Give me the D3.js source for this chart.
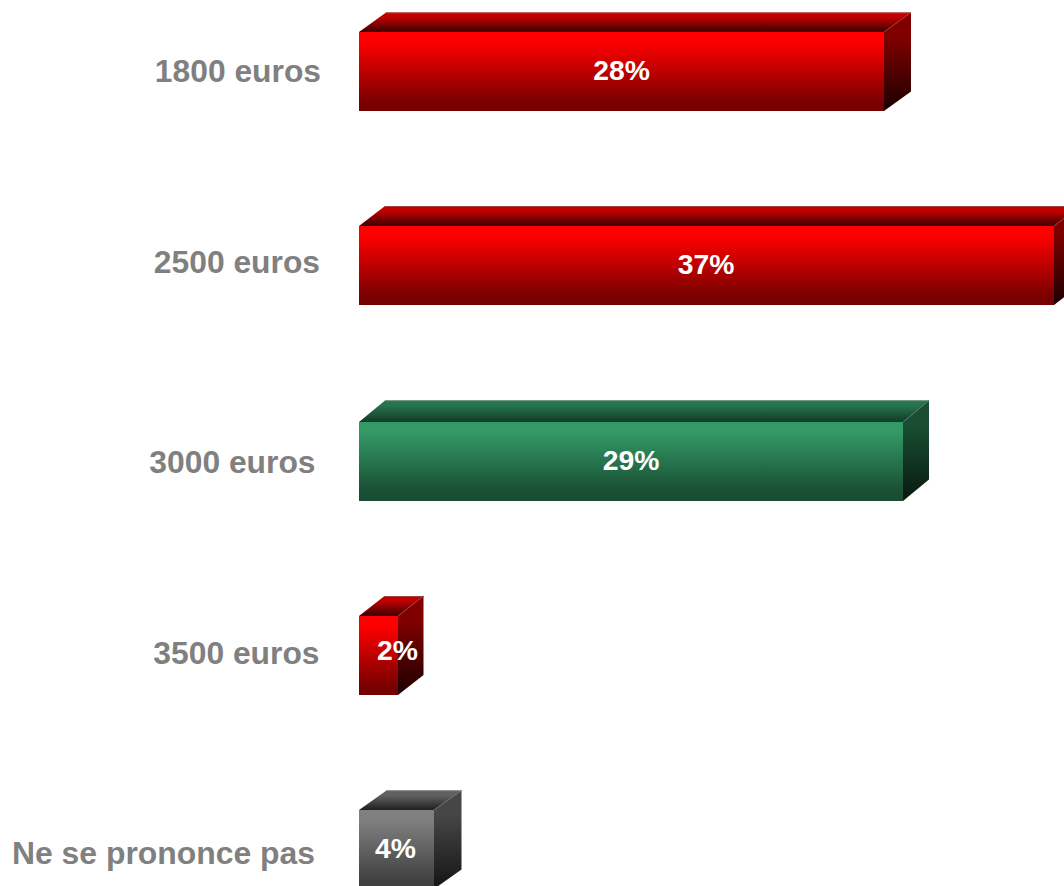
<!DOCTYPE html>
<html>
<head>
<meta charset="utf-8">
<script src="https://cdn.jsdelivr.net/npm/d3@7"></script>
<style>
  html, body { margin: 0; padding: 0; background: #fff; overflow: hidden; }
  text { font-family: "Liberation Sans", Arial, sans-serif; font-weight: bold; }
</style>
</head>
<body>
<svg id="chart" width="1064" height="886"></svg>
<script>
var categories = ['1800 euros', '2500 euros', '3000 euros', '3500 euros', 'Ne se prononce pas'];
var values = [27.95, 37, 28.95, 2.1, 4];
var valueLabels = ['28%', '37%', '29%', '2%', '4%'];
var colorNames = ['red', 'red', 'green', 'red', 'gray'];

// front / top / side gradients, [start, end]
var palettes = {
  red:   { front: ['#ff0000', '#770000'], top: ['#c00000', '#3c0000'], side: ['#800000', '#1c0000'], edge: '#a04040' },
  green: { front: ['#339966', '#194d33'], top: ['#26734d', '#133a26'], side: ['#1a4d33', '#08190f'], edge: '#4d7d66' },
  gray:  { front: ['#808080', '#404040'], top: ['#606060', '#202020'], side: ['#464646', '#141414'], edge: '#707070' }
};

var svg = d3.select('#chart');
var defs = svg.append('defs');

var barHeight = 79;

var x = d3.scaleLinear().domain([0, 37]).range([359, 1054]);
var y = d3.scalePoint().domain(categories).range([32, 810]);

// small offsets, the bars and labels are not evenly placed
var rowNudge = [0, -0.5, 1, 0.5, 0];
var depthX = [27, 26, 26, 25.5, 27.5];
var depthY = [19.5, 20, 21.5, 20, 19.5];
var labelRight = [321, 320, 315.5, 319.5, 315];
var labelBase = [82, 273, 473, 664, 864];
var labelSize = [31.8, 31.8, 31.8, 31.8, 31.9];
var valueBase = [80, 274, 470, 660, 858];
var valueShift = [0, -0.5, 0, 19, -1];

function addGradient(id, colors, holdStart, holdEnd) {
  var g = defs.append('linearGradient').attr('id', id)
    .attr('x1', 0).attr('y1', 0).attr('x2', 0).attr('y2', 1);
  g.append('stop').attr('offset', 0).attr('stop-color', colors[0]);
  g.append('stop').attr('offset', holdStart).attr('stop-color', colors[0]);
  g.append('stop').attr('offset', holdEnd).attr('stop-color', colors[1]);
  g.append('stop').attr('offset', 1).attr('stop-color', colors[1]);
}

Object.keys(palettes).forEach(function(name) {
  addGradient(name + '-front', palettes[name].front, 0.12, 0.9);
  addGradient(name + '-top', palettes[name].top, 0.25, 1);
  addGradient(name + '-side', palettes[name].side, 0.25, 1);
});

function pts(list) {
  return list.map(function(p) { return p.join(','); }).join(' ');
}

categories.forEach(function(cat, i) {
  var pal = palettes[colorNames[i]];
  var x0 = x.range()[0];
  var x1 = Math.round(x(values[i]));
  var y0 = Math.round(y(cat) + rowNudge[i]);
  var y1 = y0 + barHeight;
  var dx = depthX[i], dy = depthY[i];
  var bar = svg.append('g');

  bar.append('polygon')
    .attr('points', pts([[x0, y0], [x0 + dx, y0 - dy], [x1 + dx, y0 - dy], [x1, y0]]))
    .attr('fill', 'url(#' + colorNames[i] + '-top)');
  bar.append('polygon')
    .attr('points', pts([[x1, y0], [x1 + dx, y0 - dy], [x1 + dx, y1 - dy], [x1, y1]]))
    .attr('fill', 'url(#' + colorNames[i] + '-side)');
  bar.append('rect')
    .attr('x', x0).attr('y', y0)
    .attr('width', x1 - x0).attr('height', barHeight)
    .attr('fill', 'url(#' + colorNames[i] + '-front)');

  // light ridge along the back and the corner
  bar.append('path')
    .attr('d', 'M' + (x0 + dx) + ',' + (y0 - dy + 0.5) + 'H' + (x1 + dx))
    .attr('stroke', pal.edge).attr('fill', 'none');
  bar.append('line')
    .attr('x1', x1).attr('y1', y0)
    .attr('x2', x1 + dx).attr('y2', y0 - dy)
    .attr('stroke', pal.edge).attr('stroke-width', 0.8);

  svg.append('text')
    .attr('x', labelRight[i]).attr('y', labelBase[i])
    .attr('text-anchor', 'end')
    .attr('font-size', labelSize[i]).attr('fill', '#808080')
    .text(cat);

  svg.append('text')
    .attr('x', (x0 + x1) / 2 + valueShift[i]).attr('y', valueBase[i])
    .attr('text-anchor', 'middle')
    .attr('font-size', 28.3).attr('fill', '#fff')
    .text(valueLabels[i]);
});
</script>
</body>
</html>
